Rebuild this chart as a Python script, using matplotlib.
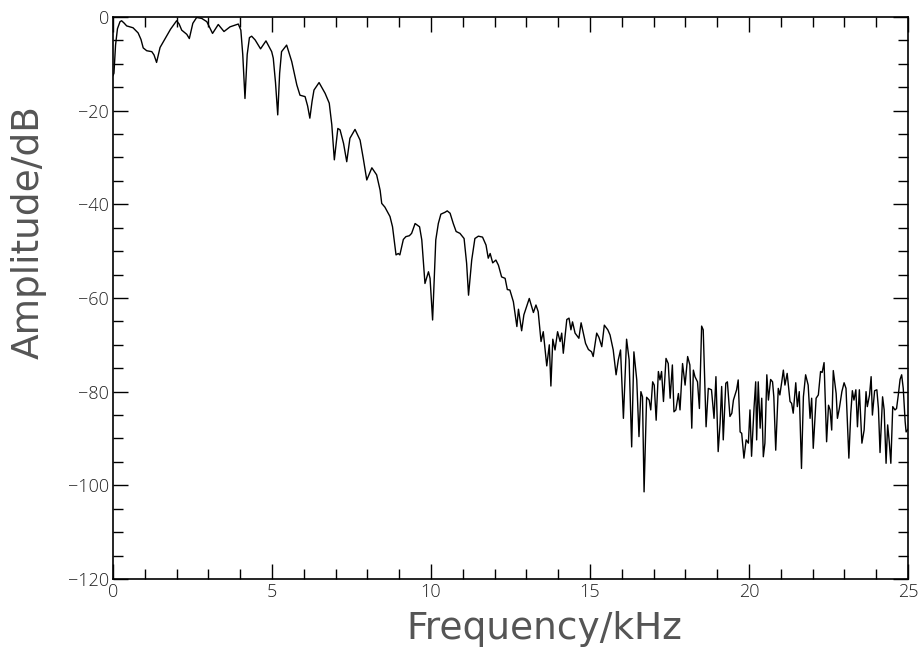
import matplotlib
matplotlib.use("Agg")
import matplotlib.pyplot as plt
from matplotlib.ticker import MultipleLocator

# spectrum values (kHz, dB)
freq_khz = [
    0.00, 0.03, 0.08, 0.14, 0.22, 0.27, 0.35, 0.43, 0.63, 0.79, 0.88, 0.95,
    1.06, 1.22, 1.29, 1.37, 1.48, 1.64, 1.81, 2.00, 2.08, 2.16, 2.32, 2.40,
    2.51, 2.63, 2.79, 2.95, 3.13, 3.31, 3.49, 3.68, 3.94, 4.02, 4.08, 4.15,
    4.22, 4.29, 4.36, 4.47, 4.64, 4.81, 4.99, 5.04, 5.11, 5.18, 5.24, 5.30,
    5.46, 5.62, 5.78, 5.88, 6.04, 6.12, 6.19, 6.26, 6.32, 6.48, 6.67, 6.80,
    6.88, 6.96, 7.07, 7.14, 7.25, 7.35, 7.45, 7.61, 7.77, 7.87, 7.98, 8.14,
    8.29, 8.40, 8.45, 8.55, 8.71, 8.79, 8.85, 8.90, 8.97, 9.02, 9.13, 9.21,
    9.32, 9.39, 9.50, 9.64, 9.71, 9.81, 9.92, 9.97, 10.05, 10.15, 10.23, 10.31,
    10.44, 10.51, 10.60, 10.70, 10.79, 10.91, 11.04, 11.12, 11.18, 11.28, 11.38, 11.49,
    11.62, 11.73, 11.80, 11.86, 11.94, 12.04, 12.12, 12.22, 12.33, 12.40, 12.48, 12.59,
    12.70, 12.75, 12.85, 12.92, 13.09, 13.22, 13.30, 13.37, 13.46, 13.53, 13.64, 13.72,
    13.77, 13.83, 13.90, 13.98, 14.06, 14.11, 14.16, 14.27, 14.34, 14.40, 14.45, 14.53,
    14.62, 14.65, 14.72, 14.79, 14.86, 14.95, 15.05, 15.10, 15.21, 15.28, 15.37, 15.45,
    15.56, 15.63, 15.73, 15.82, 15.89, 15.96, 16.05, 16.15, 16.23, 16.31, 16.38, 16.47,
    16.54, 16.60, 16.65, 16.70, 16.78, 16.86, 16.91, 16.97, 17.02, 17.08, 17.15, 17.20,
    17.25, 17.31, 17.39, 17.46, 17.52, 17.59, 17.64, 17.70, 17.78, 17.83, 17.91, 17.99,
    18.07, 18.14, 18.20, 18.25, 18.30, 18.38, 18.44, 18.51, 18.56, 18.65, 18.72, 18.82,
    18.90, 18.96, 19.03, 19.09, 19.14, 19.19, 19.27, 19.32, 19.40, 19.46, 19.51, 19.61,
    19.66, 19.72, 19.77, 19.84, 19.91, 19.98, 20.03, 20.08, 20.16, 20.21, 20.24, 20.29,
    20.35, 20.40, 20.45, 20.50, 20.56, 20.61, 20.68, 20.74, 20.78, 20.84, 20.92, 20.97,
    21.03, 21.08, 21.13, 21.20, 21.29, 21.34, 21.39, 21.47, 21.52, 21.58, 21.65, 21.71,
    21.78, 21.86, 21.92, 21.97, 22.02, 22.11, 22.18, 22.25, 22.30, 22.36, 22.44, 22.50,
    22.55, 22.60, 22.65, 22.74, 22.78, 22.84, 22.92, 22.99, 23.05, 23.14, 23.20, 23.25,
    23.30, 23.36, 23.41, 23.47, 23.55, 23.62, 23.68, 23.72, 23.79, 23.84, 23.88, 23.95,
    24.02, 24.07, 24.12, 24.20, 24.25, 24.31, 24.36, 24.41, 24.46, 24.52, 24.59, 24.64,
    24.70, 24.75, 24.80, 24.85, 24.91, 24.94, 25.00,
]
amp_db = [
    -12.5, -12.0, -6.0, -2.5, -1.0, -0.8, -1.3, -1.9, -2.3, -3.4, -4.8, -6.6,
    -7.2, -7.4, -8.1, -9.7, -6.5, -4.6, -2.6, -0.8, -1.5, -2.8, -3.7, -4.6,
    -1.35, -0.1, -0.3, -1.0, -3.5, -1.6, -3.1, -2.1, -1.5, -2.8, -8.0, -17.4,
    -8.0, -4.4, -4.1, -4.9, -6.8, -5.1, -7.4, -8.8, -14.0, -20.9, -12.0, -7.4,
    -6.0, -9.5, -14.5, -16.7, -17.0, -19.0, -21.6, -18.0, -15.6, -14.0, -16.3, -18.4,
    -23.0, -30.5, -23.8, -24.1, -27.0, -30.9, -25.9, -24.0, -26.3, -30.2, -34.8, -32.2,
    -33.7, -37.0, -39.8, -40.6, -42.6, -44.8, -48.0, -50.8, -50.5, -50.8, -47.5, -46.9,
    -46.7, -46.2, -44.1, -44.8, -47.6, -56.9, -54.4, -55.8, -64.7, -47.6, -44.1, -42.1,
    -41.7, -41.4, -41.9, -44.1, -45.8, -46.2, -47.3, -52.6, -59.4, -51.9, -47.3, -46.8,
    -47.0, -48.7, -51.5, -50.5, -52.5, -51.9, -53.0, -55.5, -55.8, -58.2, -58.3, -60.8,
    -66.1, -62.4, -67.0, -63.6, -60.1, -63.1, -61.5, -62.9, -69.3, -67.2, -74.5, -70.0,
    -78.8, -68.8, -71.1, -67.2, -69.3, -67.5, -71.8, -64.6, -64.3, -66.8, -65.1, -67.5,
    -68.3, -68.6, -65.3, -67.5, -69.7, -71.0, -71.5, -72.5, -67.5, -68.4, -70.4, -65.8,
    -66.8, -67.9, -71.1, -76.4, -73.2, -71.1, -85.7, -68.8, -73.2, -91.8, -71.5, -77.5,
    -89.6, -80.0, -81.1, -101.4, -81.2, -81.8, -83.9, -77.9, -78.6, -86.1, -75.7, -77.5,
    -75.7, -82.1, -72.9, -74.0, -81.4, -74.3, -84.3, -83.9, -80.4, -83.9, -74.0, -78.6,
    -72.5, -74.3, -87.8, -75.4, -76.8, -77.9, -83.6, -66.0, -66.8, -87.5, -79.3, -79.6,
    -85.7, -76.8, -92.8, -86.8, -78.9, -90.3, -78.2, -77.9, -85.3, -84.6, -81.8, -79.6,
    -77.5, -88.6, -88.9, -94.2, -90.3, -91.0, -83.9, -93.8, -83.2, -77.9, -90.3, -77.9,
    -87.8, -81.4, -93.9, -91.0, -76.4, -81.8, -77.4, -77.9, -81.1, -92.5, -79.3, -80.7,
    -77.9, -75.4, -78.6, -76.1, -82.1, -82.5, -84.6, -78.1, -83.2, -80.0, -96.4, -81.1,
    -76.4, -78.6, -85.7, -81.4, -92.1, -81.4, -80.7, -75.7, -75.9, -73.8, -90.7, -82.9,
    -83.9, -88.2, -75.5, -80.4, -85.7, -83.6, -80.0, -78.1, -79.3, -94.2, -84.6, -79.8,
    -81.8, -79.6, -87.5, -79.6, -91.0, -88.2, -80.0, -83.2, -80.7, -76.8, -85.0, -79.8,
    -79.6, -83.6, -93.0, -81.1, -83.9, -95.3, -87.1, -90.7, -95.3, -83.2, -83.9, -83.6,
    -80.4, -77.4, -76.4, -79.3, -86.4, -88.6, -88.0,
]

plt.rcParams['font.family'] = ['Open Sans', 'DejaVu Sans']

fig = plt.figure(figsize=(9.24, 6.49), dpi=100)
ax = fig.add_axes([0.1223, 0.1079, 0.8604, 0.8659])

ax.plot(freq_khz, amp_db, color='black', linewidth=1.0)

ax.set_xlim(0, 25)
ax.set_ylim(-120, 0)
ax.xaxis.set_major_locator(MultipleLocator(5))
ax.xaxis.set_minor_locator(MultipleLocator(1))
ax.yaxis.set_major_locator(MultipleLocator(20))
ax.yaxis.set_minor_locator(MultipleLocator(5))
ax.tick_params(which='both', direction='in', top=True, right=True,
               labelsize=13, width=1.0, color='black', labelcolor='#222222')
ax.tick_params(which='major', length=11, pad=3)
ax.tick_params(which='minor', length=7)
for sp in ax.spines.values():
    sp.set_linewidth(1.2)

for lab in ax.get_xticklabels() + ax.get_yticklabels():
    lab.set_fontweight('light')

# wide axis titles, like the reference's stroke font
ax.set_xlabel('Frequency/kHz', fontsize=27, family='DejaVu Sans', color='#555555')
ax.set_ylabel('Amplitude/dB', fontsize=27, family='DejaVu Sans', color='#555555')
ax.xaxis.set_label_coords(0.542, -0.057)
ax.yaxis.set_label_coords(-0.084, 0.617)

fig.savefig("out.png", dpi=100)
